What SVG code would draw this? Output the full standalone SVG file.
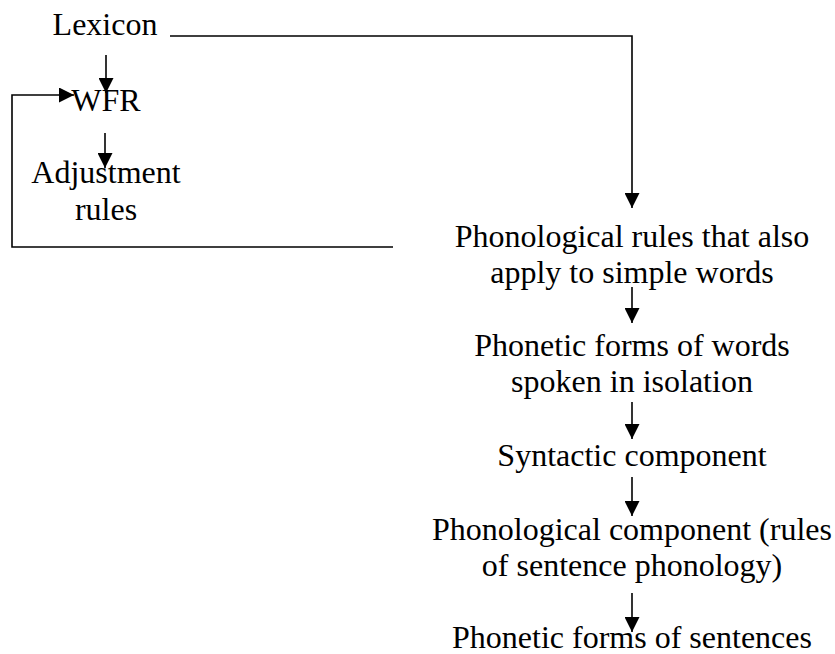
<svg xmlns="http://www.w3.org/2000/svg" width="835" height="654" viewBox="0 0 835 654">
  <defs>
    <marker id="arrow" viewBox="0 0 10 10" refX="10" refY="5" markerUnits="userSpaceOnUse" markerWidth="15" markerHeight="15" orient="auto">
      <path d="M0,0 L10,5 L0,10 Z" fill="#000"/>
    </marker>
  </defs>
  <rect width="835" height="654" fill="#fff"/>

  <!-- all labels share one serif face, size and centring -->
  <g font-family="Liberation Serif" font-size="32" fill="#000" text-anchor="middle">
    <!-- word-level stages -->
    <g id="lexicon"><text x="105" y="35">Lexicon</text></g>
    <g id="wfr"><text x="106" y="111">WFR</text></g>
    <g id="adjustment"><text x="106" y="183">Adjustment</text><text x="106" y="220">rules</text></g>

    <!-- phonological / sentence stages -->
    <g id="phonological-rules"><text x="632" y="247">Phonological rules that also</text><text x="632" y="283">apply to simple words</text></g>
    <g id="phonetic-words"><text x="632" y="356">Phonetic forms of words</text><text x="632" y="392">spoken in isolation</text></g>
    <g id="syntactic"><text x="632" y="466">Syntactic component</text></g>
    <g id="phonological-component"><text x="632" y="540">Phonological component (rules</text><text x="632" y="576">of sentence phonology)</text></g>
    <g id="phonetic-sentences"><text x="632" y="648">Phonetic forms of sentences</text></g>
  </g>

  <g id="connectors" fill="none" stroke="#000" stroke-width="1.6" marker-end="url(#arrow)">
    <polyline points="170,36 632,36 632,208"/>
    <line x1="106" y1="55" x2="106" y2="93"/>
    <line x1="105" y1="133" x2="105" y2="168"/>
    <polyline points="393,247 12,247 12,95 74,95"/>
    <line x1="632" y1="287" x2="632" y2="323"/>
    <line x1="632" y1="402" x2="632" y2="439"/>
    <line x1="632" y1="477" x2="632" y2="516"/>
    <line x1="632" y1="593" x2="632" y2="632"/>
  </g>
</svg>
